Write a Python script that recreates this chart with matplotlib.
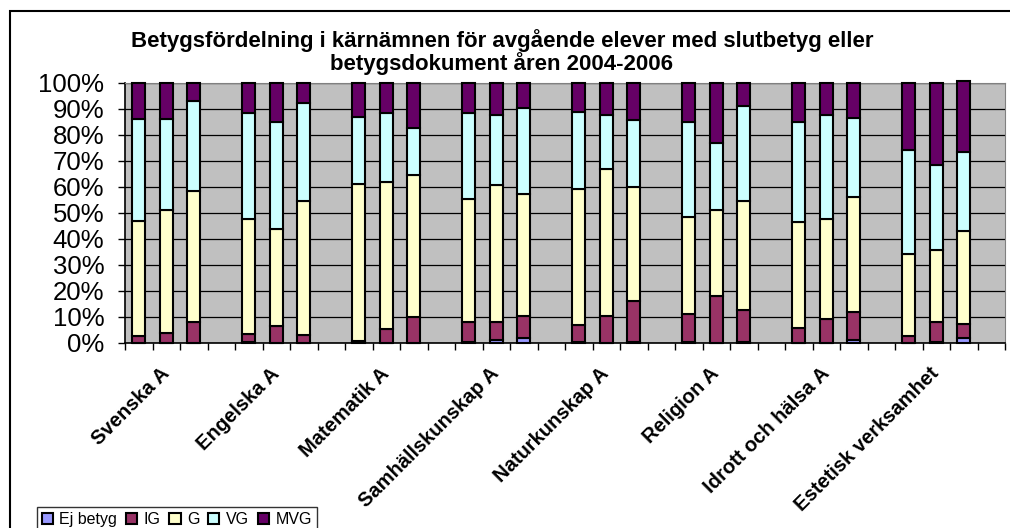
import matplotlib.pyplot as plt
from matplotlib.patches import Rectangle
from matplotlib.ticker import FixedLocator, FuncFormatter
import numpy as np

plt.rcParams['font.family'] = ['Liberation Sans', 'DejaVu Sans']

subjects = ['Svenska A', 'Engelska A', 'Matematik A', 'Samhällskunskap A',
            'Naturkunskap A', 'Religion A', 'Idrott och hälsa A', 'Estetisk verksamhet']
series = ['Ej betyg', 'IG', 'G', 'VG', 'MVG']
colors = ['#9999FF', '#993366', '#FFFFCC', '#CCFFFF', '#660066']

# three bars per subject (2004, 2005, 2006), values in percent
ej_betyg = [0.0, 0.0, 0.0, 0.5, 0.0, 0.0, 0.2, 0.0, 0.0, 0.5, 1.0, 1.8,
            0.5, 0.0, 0.5, 0.5, 0.0, 0.5, 0.0, 0.0, 1.0, 0.0, 0.5, 1.9]
ig = [2.6, 3.9, 8.0, 2.8, 6.4, 3.2, 0.5, 5.4, 9.9, 7.5, 7.0, 8.7,
      6.6, 10.5, 15.7, 10.8, 18.0, 12.2, 5.9, 9.3, 11.0, 2.6, 7.5, 5.3]
g = [44.4, 47.1, 50.5, 44.4, 37.3, 51.4, 60.5, 56.6, 54.8, 47.3, 52.7, 46.8,
     52.3, 56.3, 43.8, 37.3, 33.2, 41.9, 40.6, 38.5, 44.0, 31.8, 27.7, 35.8]
vg = [39.0, 35.0, 34.5, 40.6, 41.3, 37.8, 25.8, 26.3, 18.1, 33.0, 27.0, 33.1,
      29.6, 20.9, 25.6, 36.4, 25.9, 36.4, 38.5, 39.9, 30.4, 39.9, 32.9, 30.5]
mvg = [14.0, 14.0, 7.0, 11.7, 15.0, 7.6, 13.0, 11.7, 17.2, 11.7, 12.3, 9.6,
       11.0, 12.3, 14.4, 15.0, 22.9, 9.0, 15.0, 12.3, 13.6, 25.7, 31.4, 27.1]

values = [ej_betyg, ig, g, vg, mvg]

fig = plt.figure(figsize=(10.1, 5.28), dpi=100)
fig.patches.append(Rectangle((10 / 1010, -0.1), 1.2, 1 - 11 / 528 + 0.1, transform=fig.transFigure,
                             fill=False, edgecolor='black', linewidth=1.5))

ax = fig.add_axes([125 / 1010, 185 / 528, 880 / 1010, 260 / 528])
ax.set_facecolor('#C0C0C0')

# slot layout: 3 bars + one empty slot per subject
x = np.array([grp * 4 + i for grp in range(len(subjects)) for i in range(3)])
bottom = np.zeros(len(x))
for name, vals, col in zip(series, values, colors):
    ax.bar(x, vals, width=0.47, bottom=bottom, color=col, edgecolor='black',
           linewidth=1.5, label=name, zorder=3, clip_on=False)
    bottom += np.array(vals)

ax.set_xlim(-0.5, 31.5)
ax.set_ylim(0, 100)
ax.yaxis.set_major_locator(FixedLocator(np.arange(0, 101, 10)))
ax.yaxis.set_major_formatter(FuncFormatter(lambda v, p: f'{v:.0f}%'))
ax.grid(axis='y', color='black', linewidth=0.9, zorder=1)
ax.tick_params(axis='y', labelsize=18.5, length=5, width=1, pad=10)

ax.set_xticks([grp * 4 + 1 for grp in range(len(subjects))])
ax.set_xticklabels(subjects, rotation=45, ha='right', va='center', rotation_mode='anchor',
                   fontsize=14.5, fontweight='bold')
ax.tick_params(axis='x', length=0, pad=20)
ax.set_xticks(np.arange(-0.5, 32, 1), minor=True)
ax.tick_params(axis='x', which='minor', length=5, width=1)

for side in ['top', 'right']:
    ax.spines[side].set_color('#808080')
ax.spines['left'].set_linewidth(1.2)
ax.spines['bottom'].set_linewidth(1.2)

fig.text(0.497, 1 - 52 / 528,
         'Betygsfördelning i kärnämnen för avgående elever med slutbetyg eller\nbetygsdokument åren 2004-2006',
         ha='center', va='center', fontsize=16, fontweight='bold', linespacing=1.05)

leg = fig.legend(loc='upper left', bbox_to_anchor=(37 / 1010, 1 - 507 / 528), ncol=5,
                 fontsize=11.5, frameon=True, fancybox=False, edgecolor='black',
                 handlelength=0.7, handleheight=0.7, handletextpad=0.4, columnspacing=0.55,
                 borderpad=0.3, borderaxespad=0)
leg.get_frame().set_linewidth(1.0)

fig.savefig('out.png', dpi=100)
